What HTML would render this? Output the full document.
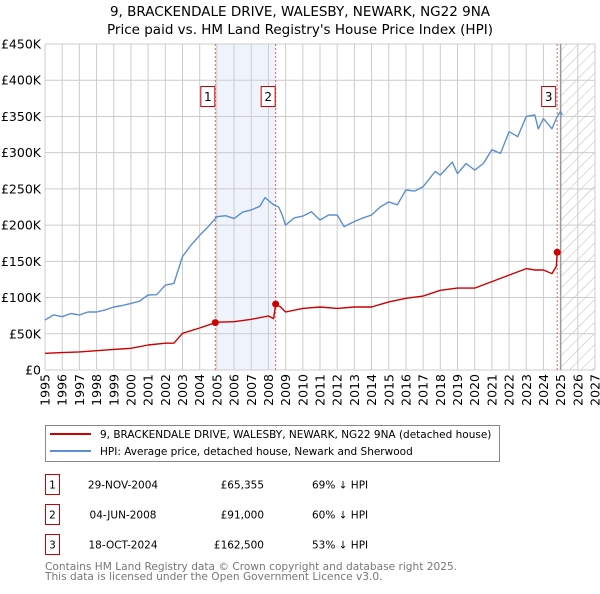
<!DOCTYPE html>
<html><head><meta charset="utf-8"><style>
body{margin:0;background:#fff;font-family:"DejaVu Sans","Liberation Sans",sans-serif}
svg text{font-family:"DejaVu Sans","Liberation Sans",sans-serif}
</style></head><body>
<svg id="chart" width="600" height="590" viewBox="0 0 600 590" xmlns="http://www.w3.org/2000/svg">
<defs><pattern id="hatch" width="8" height="8" patternUnits="userSpaceOnUse" patternTransform="rotate(45)"><line x1="0" y1="0" x2="0" y2="8" stroke="#bbb" stroke-width="1"/></pattern></defs>
<text x="300" y="16" text-anchor="middle" font-size="13.5">9, BRACKENDALE DRIVE, WALESBY, NEWARK, NG22 9NA</text>
<text x="300" y="34" text-anchor="middle" font-size="13.5">Price paid vs. HM Land Registry's House Price Index (HPI)</text>
<g id="bg"></g><g id="grid"></g><g id="marks"></g><g id="axes"></g>
<g>
<rect x="45.5" y="425.5" width="454" height="36" fill="#fff" stroke="#888"/>
<line x1="50" y1="434" x2="91" y2="434" stroke="#cc0000" stroke-width="2"/>
<text x="100" y="438" font-size="10.5">9, BRACKENDALE DRIVE, WALESBY, NEWARK, NG22 9NA (detached house)</text>
<line x1="50" y1="451" x2="91" y2="451" stroke="#5b8fd0" stroke-width="2"/>
<text x="100" y="455" font-size="10.5">HPI: Average price, detached house, Newark and Sherwood</text>
</g>
<g id="table" font-size="10.5"></g>
<text x="45" y="570" font-size="10.6" fill="#777">Contains HM Land Registry data © Crown copyright and database right 2025.</text>
<text x="45" y="580" font-size="10.6" fill="#777">This data is licensed under the Open Government Licence v3.0.</text>
</svg>
<script>
const hpiYears=[1995,1995.5,1996,1996.5,1997,1997.5,1998,1998.5,1999,1999.5,2000,2000.5,2001,2001.5,2002,2002.5,2003,2003.5,2004,2004.5,2005,2005.5,2006,2006.5,2007,2007.5,2007.8,2008.3,2008.6,2008.8,2009,2009.5,2010,2010.5,2011,2011.5,2012,2012.4,2013,2013.5,2014,2014.5,2015,2015.5,2016,2016.5,2017,2017.7,2018,2018.7,2019,2019.5,2020,2020.5,2021,2021.5,2022,2022.5,2023,2023.5,2023.7,2024,2024.5,2024.8,2025,2025.1];
const hpiValues=[69,76,73.6,78,76,80,80,83,87,89,92,95,103.5,104,117,119.6,156.5,172.5,186,198,211.6,213,209,218,221,226,238,228,225,214,200,210,212.5,218.5,207,214,214,198,205,210,214,225,232,228,248.5,247,253,274,269,287,271,285,276,285,304,299,329,322,350,352,333,347,333,350,357,352];
const propYears=[1995,1996,1997,1998,1999,2000,2001,2002,2002.5,2003,2004,2004.91,2005,2006,2007,2008,2008.3,2008.42,2008.7,2009,2010,2011,2012,2013,2014,2015,2016,2017,2018,2019,2020,2021,2022,2023,2023.5,2024,2024.5,2024.75,2024.8,2025];
const propValues=[23,24,25,26.7,28.5,30,34.5,37,37,50.6,58,65.355,66,66.7,70,74.5,71,91,87,80,85,87,85,87,87,94,99,102,110,113,113,122,131,140,138,138,133,143,162.5,164];
const saleLabels=["1","2","3"];
const saleYears=[2004.91,2008.42,2024.8];
const salePrices=[65.355,91,162.5];
const saleDates=["29-NOV-2004","04-JUN-2008","18-OCT-2024"];
const salePriceText=["£65,355","£91,000","£162,500"];
const salePct=["69% ↓ HPI","60% ↓ HPI","53% ↓ HPI"];
const yTicks=[0,50,100,150,200,250,300,350,400,450];
const yTickLabels=["£0","£50K","£100K","£150K","£200K","£250K","£300K","£350K","£400K","£450K"];
const xTicks=[1995,1996,1997,1998,1999,2000,2001,2002,2003,2004,2005,2006,2007,2008,2009,2010,2011,2012,2013,2014,2015,2016,2017,2018,2019,2020,2021,2022,2023,2024,2025,2026,2027];

const NS="http://www.w3.org/2000/svg";
const X0=45,X1=595,Y0=370,Y1=44;
const xs=y=>X0+(y-1995)/(2027-1995)*(X1-X0);
const ys=v=>Y0-v/450*(Y0-Y1);
function mk(t,a,p){const e=document.createElementNS(NS,t);for(const k in a)e.setAttribute(k,a[k]);p.appendChild(e);return e;}
const bg=document.getElementById('bg'),grid=document.getElementById('grid'),marks=document.getElementById('marks'),axes=document.getElementById('axes'),table=document.getElementById('table');
let e=mk('rect',{x:xs(saleYears[0]),y:Y1,width:xs(saleYears[1])-xs(saleYears[0]),height:Y0-Y1,fill:'#eef3fc'},bg);


e=mk('rect',{x:xs(2025),y:Y1,width:X1-xs(2025),height:Y0-Y1,fill:'url(#hatch)'},bg);


yTicks.forEach((v,i)=>{
 e=mk('line',{x1:X0,x2:X1,y1:ys(v),y2:ys(v),stroke:'#ccc'},grid);
 
 
 e=mk('text',{x:X0-4,y:ys(v)+4.5,'text-anchor':'end','font-size':'12.5'},axes);e.textContent=yTickLabels[i];
 
 
});
xTicks.forEach(y=>{
 e=mk('line',{x1:xs(y),x2:xs(y),y1:Y1,y2:Y0,stroke:'#ccc'},grid);
 
 
 const tx=xs(y)+4.5,ty=Y0+4;
 e=mk('text',{x:tx,y:ty,'text-anchor':'end','font-size':'12.5',transform:`rotate(-90 ${tx} ${ty})`},axes);e.textContent=y;
 
 
});
e=mk('line',{x1:xs(2025),x2:xs(2025),y1:Y1,y2:Y0,stroke:'#999','stroke-width':1.5},grid);


saleYears.forEach((y,i)=>{
 e=mk('line',{x1:xs(y),x2:xs(y),y1:Y1,y2:Y0,stroke:'#e06060','stroke-dasharray':'2,2'},marks);
 
 
});
function path(xa,va,col,name){
 const d=xa.map((x,i)=>(i?'L':'M')+xs(x).toFixed(1)+','+ys(va[i]).toFixed(1)).join('');
 const p=mk('path',{d:d,fill:'none',stroke:col,'stroke-width':1.4,'stroke-linejoin':'round'},marks);
 
 
}
path(hpiYears,hpiValues,'#5b8fd0','hpi-line');
path(propYears,propValues,'#cc0000','property-line');
saleYears.forEach((y,i)=>{
 e=mk('circle',{cx:xs(y),cy:ys(salePrices[i]),r:3.5,fill:'#cc0000'},marks);
 
 
 const g=mk('g',{},marks);
 
 
 mk('rect',{x:xs(y)-18.5+(i==2?3:4),y:86.5,width:14,height:20,fill:'#fff',stroke:'#cc0000'},g);
 const t=mk('text',{x:xs(y)-11.5+(i==2?3:4),y:101,'text-anchor':'middle','font-size':'12'},g);t.textContent=saleLabels[i];
});
saleLabels.forEach((l,i)=>{
 const cy=483+i*30;
 const g=mk('g',{},table);
 
 
 mk('rect',{x:45.5,y:cy-8.5,width:14,height:20,fill:'#fff',stroke:'#cc0000'},g);
 let t=mk('text',{x:52.5,y:cy+5.5,'text-anchor':'middle'},g);t.textContent=l;
 t=mk('text',{x:123,y:cy+5.5,'text-anchor':'middle'},g);t.textContent=saleDates[i];
 t=mk('text',{x:264,y:cy+5.5,'text-anchor':'end'},g);t.textContent=salePriceText[i];
 t=mk('text',{x:312,y:cy+5.5},g);t.textContent=salePct[i];
});
</script>
</body></html>
